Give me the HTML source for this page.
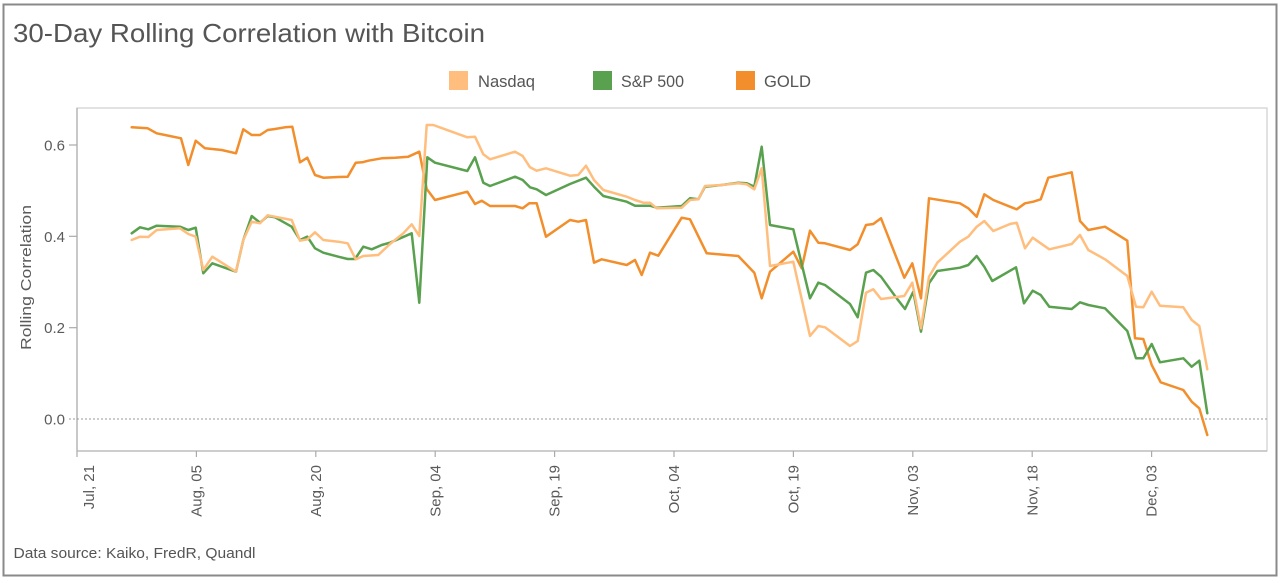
<!DOCTYPE html>
<html><head><meta charset="utf-8"><style>
html,body{margin:0;padding:0;background:#fff;}
svg{display:block;font-family:"Liberation Sans",Arial,sans-serif;}
</style></head><body>
<svg width="1280" height="583" viewBox="0 0 1280 583" xmlns="http://www.w3.org/2000/svg">
<rect x="0" y="0" width="1280" height="583" fill="#fff"/>
<rect x="3.5" y="4.5" width="1273" height="571" fill="none" stroke="#8a8a8a" stroke-width="2"/>
<text x="13" y="42" font-size="26" fill="#555" textLength="472" lengthAdjust="spacingAndGlyphs">30-Day Rolling Correlation with Bitcoin</text>
<!-- legend -->
<rect x="449" y="71" width="19" height="19" fill="#FFBE7D"/>
<text x="478" y="87" font-size="16.5" fill="#555" textLength="57" lengthAdjust="spacingAndGlyphs">Nasdaq</text>
<rect x="593" y="71" width="19" height="19" fill="#59A14F"/>
<text x="621" y="87" font-size="16.5" fill="#555" textLength="63" lengthAdjust="spacingAndGlyphs">S&amp;P 500</text>
<rect x="736" y="71" width="19" height="19" fill="#F28E2B"/>
<text x="764" y="87" font-size="16.5" fill="#555" textLength="47" lengthAdjust="spacingAndGlyphs">GOLD</text>
<!-- plot frame -->
<rect x="77" y="108" width="1190" height="343" fill="none" stroke="#cfcfcf" stroke-width="1.2"/>
<line x1="77" y1="108" x2="77" y2="451" stroke="#aaa" stroke-width="1.2"/>
<line x1="77" y1="451" x2="1267" y2="451" stroke="#b5b5b5" stroke-width="1.2"/>
<!-- y ticks -->
<g stroke="#aaa" stroke-width="1.2">
<line x1="69" y1="145" x2="77" y2="145"/>
<line x1="69" y1="236.3" x2="77" y2="236.3"/>
<line x1="69" y1="327.7" x2="77" y2="327.7"/>
</g>
<line x1="69" y1="419" x2="1267" y2="419" stroke="#999" stroke-width="1" stroke-dasharray="2,2"/>
<g font-size="15" fill="#5a5a5a" text-anchor="end">
<text x="65" y="150.5">0.6</text>
<text x="65" y="241.8">0.4</text>
<text x="65" y="333.2">0.2</text>
<text x="65" y="424.5">0.0</text>
</g>
<text transform="translate(31,277.5) rotate(-90)" font-size="14.5" fill="#5a5a5a" text-anchor="middle" textLength="145" lengthAdjust="spacingAndGlyphs">Rolling Correlation</text>
<!-- x ticks -->
<g stroke="#aaa" stroke-width="1.2">
<line x1="77" y1="451" x2="77" y2="457"/>
<line x1="196.4" y1="451" x2="196.4" y2="457"/>
<line x1="315.8" y1="451" x2="315.8" y2="457"/>
<line x1="435.2" y1="451" x2="435.2" y2="457"/>
<line x1="554.6" y1="451" x2="554.6" y2="457"/>
<line x1="674" y1="451" x2="674" y2="457"/>
<line x1="793.4" y1="451" x2="793.4" y2="457"/>
<line x1="912.8" y1="451" x2="912.8" y2="457"/>
<line x1="1032.2" y1="451" x2="1032.2" y2="457"/>
<line x1="1151.6" y1="451" x2="1151.6" y2="457"/>
</g>
<g font-size="15" fill="#5a5a5a" text-anchor="end">
<text transform="translate(94,465) rotate(-90)">Jul, 21</text>
<text transform="translate(201.5,465) rotate(-90)">Aug, 05</text>
<text transform="translate(320.9,465) rotate(-90)">Aug, 20</text>
<text transform="translate(440.3,465) rotate(-90)">Sep, 04</text>
<text transform="translate(559.7,465) rotate(-90)">Sep, 19</text>
<text transform="translate(679.1,465) rotate(-90)">Oct, 04</text>
<text transform="translate(798.5,465) rotate(-90)">Oct, 19</text>
<text transform="translate(917.9,465) rotate(-90)">Nov, 03</text>
<text transform="translate(1037.3,465) rotate(-90)">Nov, 18</text>
<text transform="translate(1156.7,465) rotate(-90)">Dec, 03</text>
</g>
<!-- series -->
<g fill="none" stroke-width="2.5" stroke-linejoin="round" stroke-linecap="round">
<polyline stroke="#F28E2B" points="131.7,127.3 147.7,128.3 156.7,133.3 165,135 181,138.3 188.3,165 195.7,140.7 205,148.3 221.7,150 236,153.3 243.3,129.3 251.7,135 260,135 267.7,130 275,129 285,127.3 292.3,126.7 300,162.3 307.3,157.7 315,175 323.3,177.7 338.3,177 347.7,176.7 355.7,162.7 362.3,162.3 368.3,160.7 381.7,158.3 395,157.7 408.3,156.7 419.3,151.7 426.7,189 435,200 467.3,191.7 475,204 481.7,200.7 490,206 515,206 522.7,208.3 529.3,203.3 536.7,203.3 546,236.7 570,220 578.3,221.7 586,220 594,262.7 601.7,259.3 626.7,265 635,260 641.7,275 650,252.7 658.3,255.7 681.7,217.7 690,219.3 706.7,253.3 738.3,256 754.3,272.7 761.7,298.3 770,271.7 793.3,251.7 801.7,268.3 810,230.7 818.3,242.7 825,243.3 850,250 857.7,244.3 866,225 873.3,224 881,218.3 904.3,277.7 912.3,263.3 921,298.3 929,198.3 960,203.3 968.3,208.3 976.7,216.7 984.3,194.3 993.3,200 1010,206.7 1016.7,209.3 1025,203.3 1033.3,201.7 1040.7,199.3 1048.3,177.7 1071.7,172.3 1080,221 1088.3,230 1105,226.7 1127.3,240.7 1135,338.3 1143.3,339 1151.7,365 1160.7,382.3 1183.3,390 1191.7,401.7 1199.3,408.3 1207.3,435"/>
<polyline stroke="#59A14F" points="131.7,233.3 140,227.3 148.3,229.3 156.7,225.7 180,226.7 188.3,230 195.7,227.7 203.3,273.3 212.3,263.3 236,271.7 243.3,240 251.7,216 260,222.7 267.7,216 275,217.3 291.7,226.7 300,240 307.3,236.7 315,248.3 323.3,252.7 338.3,256.7 347.7,259 355,259 363.3,246.7 371.7,249.3 381.7,245 390,242.7 411.7,233.3 419.3,302.7 427.3,157.3 435,162.7 467.3,171 475,157.3 483.3,182.7 490,186 515,176.7 522.7,180 530,187.3 536.7,189.3 546,195 570,184 586,177.7 594,186.7 603.3,196 626.7,201.7 635,205.7 650,205.7 656.7,207.7 681.7,206 690,198.3 698.3,199.3 705,186.7 721.7,185 738.3,182.7 746.7,183.3 754.3,186.7 761.7,146.7 770,225 793.3,229.3 810,298.3 818.3,282.7 825,285 850,304 857.7,317.3 866,272.7 873.3,270 881,276.7 896.7,298.3 905,309 913.3,291.7 921,331.7 929,283.3 937.3,271 960,267.7 968.3,265 976.7,256 984.3,266.7 992.3,281 1016,267.3 1024,303.3 1032.7,290.7 1040.7,295 1049.3,306.7 1071.7,309 1080,302.3 1088.3,305 1105,308.3 1127.3,331 1136,358.3 1143.3,358.3 1151.7,344 1160,362.3 1183.3,358.3 1191.7,366.7 1199.3,360.7 1207.3,413.3"/>
<polyline stroke="#FFBE7D" points="131.7,240 140,236.7 148.3,237 156.7,230 180,228.3 188.3,234 195.7,236.7 203.3,270 212.3,256.7 236,271.7 243.3,240 251.7,221.7 260,223.3 267.7,215.3 291.7,220 300,240.7 307.3,239.3 315,232.3 323.3,240 338.3,241.7 347.7,243.3 355.7,259.3 363.3,256 378.3,255 390,244 403.3,233.3 411.7,224.3 419.3,236 426.7,125 433.3,125 467.3,137.3 475,136.7 483.3,154.3 490,159.3 515,151.7 522.7,156 530,167.3 536.7,170.7 546,168.3 570,175.7 578.3,175 586,165.7 594,180 603.3,190 626.7,196.7 635,200 643.3,202.7 650,202.7 656.7,208.3 681.7,207.7 690,200 698.3,199.3 705,186 721.7,185 738.3,183.3 746.7,184.3 754.3,189.3 761.7,168.3 770,266 793.3,261.7 810,336 818.3,326 825,327.3 850,346 857.7,341 866,292.7 873.3,289.3 881,299 904.3,296 912.3,282.7 921,328.3 929,276.7 937.3,262.7 960,241.7 968.3,236.7 976.7,226.7 984.3,221 993.3,231 1010,224 1016.7,222.7 1025,248.3 1032.7,237.7 1040.7,243.3 1049.3,249.3 1071.7,244 1080,235 1088.3,250 1105,259.3 1127.3,276 1136,306.7 1143.3,307.3 1151.7,291.7 1160,305.7 1183.3,307.3 1191.7,320 1199.3,326 1207.3,369.3"/>
</g>
<text x="13.5" y="558" font-size="15" fill="#555" textLength="242" lengthAdjust="spacingAndGlyphs">Data source: Kaiko, FredR, Quandl</text>
</svg>
</body></html>
